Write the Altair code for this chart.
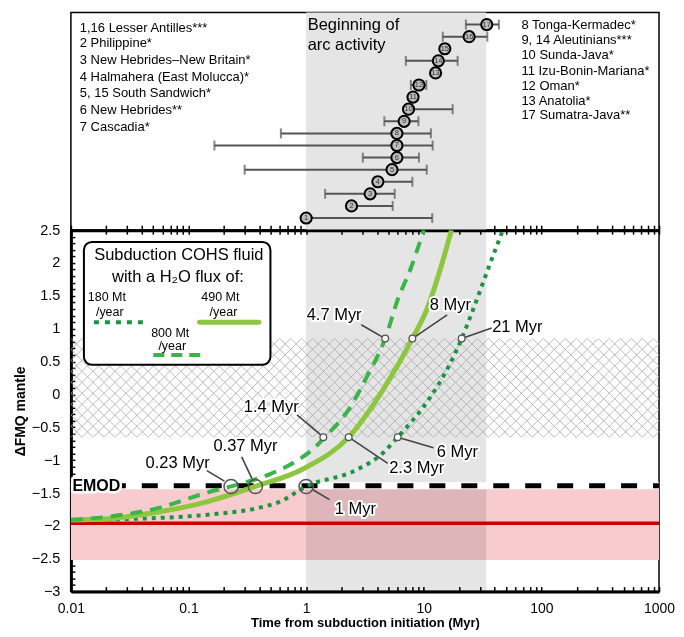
import altair as alt
import pandas as pd
import numpy as np

FONT = "Liberation Sans, Arial, sans-serif"

# ---------------- top panel: beginning of arc activity ----------------
arc_id = list(range(1, 18))
arc_age = [1.0, 2.43, 3.5, 4.07, 5.37, 5.91, 5.91, 5.91, 6.81, 7.42, 8.1, 9.1, 12.6, 13.3, 15.1, 24.3, 34.3]
arc_lo = [1.0, 2.43, 1.45, 4.07, 0.30, 3.03, 0.166, 0.61, 4.62, 7.42, 8.1, 7.76, 12.6, 7.04, 15.1, 14.5, 22.8]
arc_hi = [11.8, 5.44, 5.66, 8.0, 10.6, 9.1, 11.9, 11.5, 9.0, 17.6, 8.1, 10.5, 12.6, 19.4, 15.1, 34.7, 43.5]

left_names = ["1,16  Lesser Antilles***", "2  Philippine*", "3  New Hebrides\u2013New Britain*",
              "4  Halmahera (East Molucca)*", "5, 15 South Sandwich*", "6  New Hebrides**", "7  Cascadia*"]
left_x = [0.0119] * 7
left_y = [16.70, 15.46, 14.07, 12.69, 11.32, 9.93, 8.55]
right_names = ["8  Tonga-Kermadec*", "9, 14  Aleutinians***", "10  Sunda-Java*", "11  Izu-Bonin-Mariana*",
               "12  Oman*", "13  Anatolia*", "17  Sumatra-Java**"]
right_x = [67.6] * 7
right_y = [16.97, 15.73, 14.49, 13.19, 11.92, 10.68, 9.52]
head_text = ["Beginning of", "arc activity"]
head_x = [1.03, 1.03]
head_y = [16.97, 15.30]

arc_band = [1.0, 34.0]

# ---------------- bottom panel: mantle fO2 evolution ----------------
x180 = [0.01, 0.055, 0.146, 0.385, 0.6, 1.0, 2.67, 4.5, 6.0, 11.0, 16.2, 21, 26.5, 35.4, 47]
y180 = [-1.91, -1.88, -1.83, -1.73, -1.63, -1.40, -1.15, -0.89, -0.65, -0.08, 0.42, 0.85, 1.31, 1.92, 2.5]
x490 = [0.01, 0.021, 0.055, 0.146, 0.37, 0.95, 2.3, 4.5, 8.0, 10.7, 13.9, 17.2]
y490 = [-1.91, -1.89, -1.79, -1.63, -1.40, -1.13, -0.65, 0.07, 0.85, 1.31, 1.92, 2.5]
x800 = [0.01, 0.021, 0.055, 0.146, 0.23, 0.51, 0.78, 1.16, 1.44, 2.28, 3.35, 4.7, 6.0, 7.76, 10.0]
y800 = [-1.91, -1.86, -1.73, -1.49, -1.40, -1.20, -1.04, -0.82, -0.65, -0.24, 0.30, 0.85, 1.44, 1.92, 2.5]

emod_y = -1.39
arc_mantle_y = -1.96
arc_mantle_band = [-2.52, -1.44]
hatch_band = [-0.65, 0.85]

big_x = [0.23, 0.37, 1.0]
big_y = [-1.40, -1.40, -1.40]
small_x = [1.4, 2.3, 6.0, 4.7, 8.0, 21.0]
small_y = [-0.65, -0.65, -0.65, 0.85, 0.85, 0.85]

ann_text = ["0.23 Myr", "0.37 Myr", "1 Myr", "1.4 Myr", "2.3 Myr", "6 Myr", "4.7 Myr", "8 Myr", "21 Myr"]
ann_x = [0.0807, 0.305, 2.62, 0.505, 8.7, 19.3, 1.73, 16.8, 62.4]
ann_y = [-1.04, -0.79, -1.74, -0.19, -1.12, -0.87, 1.21, 1.36, 1.03]
lead_x = [0.143, 0.283, 1.58, 0.836, 4.94, 12.1, 2.94, 15.8, 37.8]
lead_y = [-1.16, -0.95, -1.60, -0.31, -1.05, -0.81, 1.06, 1.21, 1.01]
lead_x2 = [0.202, 0.346, 1.14, 1.4, 2.3, 6.0, 4.7, 8.0, 21.0]
lead_y2 = [-1.32, -1.28, -1.45, -0.65, -0.65, -0.65, 0.85, 0.85, 0.85]

legend_box_x = [0.0129, 0.497]
legend_box_y = [0.45, 2.32]
legend_title = ["Subduction COHS fluid", "with a H\u2082O flux of:"]
legend_title_x = [0.0827, 0.0813]
legend_title_y = [2.12, 1.79]
legend_item_text = ["180 Mt", "/year", "490 Mt", "/year", "800 Mt", "/year"]
legend_item_x = [0.0202, 0.0214, 0.1866, 0.198, 0.0699, 0.0727]
legend_item_y = [1.48, 1.26, 1.48, 1.26, 0.94, 0.74]
legend_line_180 = [0.0157, 0.0456, 1.10]
legend_line_490 = [0.124, 0.397, 1.10]
legend_line_800 = [0.0502, 0.127, 0.60]

C180, C490, C800 = "#1a9641", "#8dc63f", "#39b54a"

W = 589
H_TOP = 218
H_BOT = 362

# ---------------- scales / axes ----------------
XS = alt.Scale(type="log", domain=[0.01, 1000], nice=False)
YB = alt.Scale(domain=[-3, 2.5], nice=False, zero=False)
YT = alt.Scale(domain=[0, 18], nice=False, zero=False)

minor_vals = [round(m * 10.0 ** e, 6) for e in range(-2, 3) for m in range(1, 10)] + [1000]
y_minor = [round(-3 + 0.1 * i, 2) for i in range(56)]

ax_x_labels = alt.Axis(orient="bottom", values=[0.01, 0.1, 1, 10, 100, 1000], format="~g",
                       tickSize=0, domainWidth=3, domainColor="black", grid=False,
                       labelFont=FONT, labelFontSize=14, labelColor="black", labelPadding=10,
                       labelFlush=False,
                       title="Time from subduction initiation (Myr)", titleFont=FONT,
                       titleFontSize=13, titleFontWeight="bold", titleColor="black", titlePadding=1)
ax_x_ticks = alt.Axis(orient="bottom", offset=-5, values=minor_vals, tickSize=5, tickWidth=1.5,
                      tickColor="black", domain=False, labels=False, title=None, grid=False)
ax_y_labels = alt.Axis(orient="left", values=[v / 2 for v in range(-6, 6)], format="~g", tickSize=0,
                       domainWidth=3, domainColor="black", grid=False,
                       labelFont=FONT, labelFontSize=14.5, labelColor="black", labelPadding=11,
                       title="\u0394FMQ mantle", titleFont=FONT, titleFontSize=14,
                       titleFontWeight="bold", titleColor="black", titlePadding=4)
ax_y_ticks = alt.Axis(orient="left", offset=-4, values=y_minor, tickSize=4, tickWidth=1.5,
                      tickColor="black", domain=False, labels=False, title=None, grid=False)
ax_top_down = alt.Axis(orient="bottom", values=minor_vals, tickSize=4, tickWidth=1.5,
                       tickColor="black", domainWidth=3, domainColor="black",
                       labels=False, title=None, grid=False)
ax_top_up = alt.Axis(orient="bottom", offset=-5, values=minor_vals, tickSize=5, tickWidth=1.5,
                     tickColor="black", domain=False, labels=False, title=None, grid=False)


def X(f, axis=None):
    return alt.X(f, type="quantitative", scale=XS, axis=axis)


def YBf(f, axis=None):
    return alt.Y(f, type="quantitative", scale=YB, axis=axis)


def YTf(f, axis=None):
    return alt.Y(f, type="quantitative", scale=YT, axis=axis)


# ---------------- top panel ----------------
arcs = pd.DataFrame({"id": arc_id, "age": arc_age, "lo": arc_lo, "hi": arc_hi})
band_t = pd.DataFrame({"x0": [arc_band[0]], "x1": [arc_band[1]], "y0": [0], "y1": [18]})

t_band = alt.Chart(band_t).mark_rect(color="#e5e5e5").encode(
    x=X("x0", ax_top_down), x2="x1", y=YTf("y0"), y2="y1")
t_err = alt.Chart(arcs).mark_rule(color="#555555", strokeWidth=2).encode(
    x=X("lo", ax_top_up), x2="hi", y=YTf("id"))
t_caplo = alt.Chart(arcs).transform_filter("datum.lo < datum.age").mark_tick(
    orient="vertical", color="#555555", thickness=2, size=10).encode(x=X("lo"), y=YTf("id"))
t_caphi = alt.Chart(arcs).transform_filter("datum.hi > datum.age").mark_tick(
    orient="vertical", color="#555555", thickness=2, size=10).encode(x=X("hi"), y=YTf("id"))
t_pts = alt.Chart(arcs).mark_point(shape="circle", filled=True, fill="#bdbdbd", stroke="black",
                                   strokeWidth=2, size=125, opacity=1).encode(x=X("age"), y=YTf("id"))
t_num = alt.Chart(arcs).mark_text(font=FONT, fontSize=7.5, color="#333333").encode(
    x=X("age"), y=YTf("id"), text="id:N")
lt = pd.DataFrame({"t": left_names, "x": left_x, "y": left_y})
rt = pd.DataFrame({"t": right_names, "x": right_x, "y": right_y})
ht = pd.DataFrame({"t": head_text, "x": head_x, "y": head_y})
t_left = alt.Chart(lt).mark_text(font=FONT, fontSize=13, align="left", baseline="middle",
                                 color="black").encode(x=X("x"), y=YTf("y"), text="t:N")
t_right = alt.Chart(rt).mark_text(font=FONT, fontSize=13, align="left", baseline="middle",
                                  color="black").encode(x=X("x"), y=YTf("y"), text="t:N")
t_head = alt.Chart(ht).mark_text(font=FONT, fontSize=16.5, align="left", baseline="middle",
                                 color="black").encode(x=X("x"), y=YTf("y"), text="t:N")

top = alt.layer(t_band, t_err, t_caplo, t_caphi, t_pts, t_num, t_left, t_right, t_head).resolve_axis(
    x="independent", y="independent").properties(width=W, height=H_TOP)

# ---------------- bottom panel ----------------
pink = pd.DataFrame({"x0": [0.01], "x1": [1000], "y0": [arc_mantle_band[0]], "y1": [arc_mantle_band[1]]})
b_pink = alt.Chart(pink).mark_rect(color="#f8cbce").encode(
    x=X("x0", ax_x_labels), x2="x1", y=YBf("y0", ax_y_labels), y2="y1")
grayb = pd.DataFrame({"x0": [arc_band[0]], "x1": [arc_band[1]], "y0": [-3], "y1": [2.5]})
b_gray = alt.Chart(grayb).mark_rect(color="#e5e5e5", blend="multiply").encode(
    x=X("x0", ax_x_ticks), x2="x1", y=YBf("y0", ax_y_ticks), y2="y1")

# cross-hatch (decoration): 45-degree lines in pixel space
px_dec = W / 5.0
px_unit = H_BOT / 5.5
step = 11 / px_dec
span = (hatch_band[1] - hatch_band[0]) * px_unit / px_dec
starts = np.arange(-2 - span - step, 3 + step, step)
h1 = pd.DataFrame({"x": 10 ** starts, "x2": 10 ** (starts + span),
                   "y": hatch_band[0], "y2": hatch_band[1]})
h2 = pd.DataFrame({"x": 10 ** starts, "x2": 10 ** (starts + span),
                   "y": hatch_band[1], "y2": hatch_band[0]})
hatch = pd.concat([h1, h2], ignore_index=True)
b_hatch = alt.Chart(hatch).mark_rule(color="#aaaaaa", strokeWidth=0.8, clip=True).encode(
    x=X("x"), x2="x2", y=YBf("y"), y2="y2")

b_red = alt.Chart(pd.DataFrame({"y": [arc_mantle_y]})).mark_rule(
    color="#cc0000", strokeWidth=3.5).encode(y=YBf("y"))
b_emod_w = alt.Chart(pd.DataFrame({"y": [emod_y]})).mark_rule(
    color="white", strokeWidth=7).encode(y=YBf("y"))
b_emod = alt.Chart(pd.DataFrame({"y": [emod_y]})).mark_rule(
    color="black", strokeWidth=5, strokeDash=[16, 16], strokeDashOffset=10).encode(y=YBf("y"))

d180 = pd.DataFrame({"x": x180, "y": y180})
d490 = pd.DataFrame({"x": x490, "y": y490})
d800 = pd.DataFrame({"x": x800, "y": y800})
b_180 = alt.Chart(d180).mark_line(color=C180, strokeWidth=4, strokeDash=[4, 5],
                                  interpolate="monotone", clip=True).encode(x=X("x"), y=YBf("y"))
b_490 = alt.Chart(d490).mark_line(color=C490, strokeWidth=5, interpolate="monotone",
                                  clip=True).encode(x=X("x"), y=YBf("y"))
b_800 = alt.Chart(d800).mark_line(color=C800, strokeWidth=4, strokeDash=[12, 8],
                                  interpolate="monotone", clip=True).encode(x=X("x"), y=YBf("y"))

ann = pd.DataFrame({"t": ann_text, "x": ann_x, "y": ann_y, "lx": lead_x, "ly": lead_y,
                    "lx2": lead_x2, "ly2": lead_y2})
b_lead = alt.Chart(ann).mark_rule(color="#444444", strokeWidth=1.6).encode(
    x=X("lx"), x2="lx2", y=YBf("ly"), y2="ly2")
b_big = alt.Chart(pd.DataFrame({"x": big_x, "y": big_y})).mark_point(
    shape="circle", filled=False, stroke="#555555", strokeWidth=1.5, size=200, opacity=1).encode(
    x=X("x"), y=YBf("y"))
b_small = alt.Chart(pd.DataFrame({"x": small_x, "y": small_y})).mark_point(
    shape="circle", filled=True, fill="white", stroke="#555555", strokeWidth=1.3, size=45,
    opacity=1).encode(x=X("x"), y=YBf("y"))
b_ann_halo = alt.Chart(ann).mark_text(font=FONT, fontSize=16.5, color="white", stroke="white",
                                      strokeWidth=4, strokeJoin="round").encode(
    x=X("x"), y=YBf("y"), text="t:N")
b_ann = alt.Chart(ann).mark_text(font=FONT, fontSize=16.5, color="black").encode(
    x=X("x"), y=YBf("y"), text="t:N")

emod_lab = pd.DataFrame({"t": ["EMOD"], "x": [0.0103], "y": [emod_y]})
b_emod_halo = alt.Chart(emod_lab).mark_text(font=FONT, fontSize=16, fontWeight="bold",
                                            align="left", color="white", stroke="white",
                                            strokeWidth=5, strokeJoin="round").encode(
    x=X("x"), y=YBf("y"), text="t:N")
b_emod_lab = alt.Chart(emod_lab).mark_text(font=FONT, fontSize=16, fontWeight="bold",
                                           align="left", color="black").encode(
    x=X("x"), y=YBf("y"), text="t:N")

lbox = pd.DataFrame({"x0": [legend_box_x[0]], "x1": [legend_box_x[1]],
                     "y0": [legend_box_y[0]], "y1": [legend_box_y[1]]})
b_lbox = alt.Chart(lbox).mark_rect(fill="white", stroke="black", strokeWidth=2,
                                   cornerRadius=8).encode(x=X("x0"), x2="x1", y=YBf("y0"), y2="y1")
ltit = pd.DataFrame({"t": legend_title, "x": legend_title_x, "y": legend_title_y})
b_ltit = alt.Chart(ltit).mark_text(font=FONT, fontSize=16.5, color="black").encode(
    x=X("x"), y=YBf("y"), text="t:N")
litm = pd.DataFrame({"t": legend_item_text, "x": legend_item_x, "y": legend_item_y})
b_litm = alt.Chart(litm).mark_text(font=FONT, fontSize=12.5, color="black").encode(
    x=X("x"), y=YBf("y"), text="t:N")


def leg_line(vals, color, width, dash=None):
    df = pd.DataFrame({"x": [vals[0]], "x2": [vals[1]], "y": [vals[2]]})
    kw = dict(color=color, strokeWidth=width)
    if dash:
        kw["strokeDash"] = dash
    else:
        kw["strokeCap"] = "round"
    return alt.Chart(df).mark_rule(**kw).encode(x=X("x"), x2="x2", y=YBf("y"))


b_l180 = leg_line(legend_line_180, C180, 4, [5, 6])
b_l490 = leg_line(legend_line_490, C490, 5)
b_l800 = leg_line(legend_line_800, C800, 4, [11, 7])

bottom = alt.layer(
    b_pink, b_gray, b_hatch, b_red, b_emod_w, b_emod,
    b_180, b_490, b_800, b_lead, b_big, b_small, b_ann_halo, b_ann,
    b_emod_halo, b_emod_lab, b_lbox, b_ltit, b_litm, b_l180, b_l490, b_l800
).resolve_axis(x="independent", y="independent").properties(width=W, height=H_BOT)

chart = alt.vconcat(top, bottom, spacing=0, bounds="flush").configure_view(
    stroke="black", strokeWidth=1.5).properties(
    padding={"left": 4, "top": 3, "right": 0, "bottom": 0}, background="white")

chart.save("out.html", embed_options={"renderer": "svg", "actions": False})
